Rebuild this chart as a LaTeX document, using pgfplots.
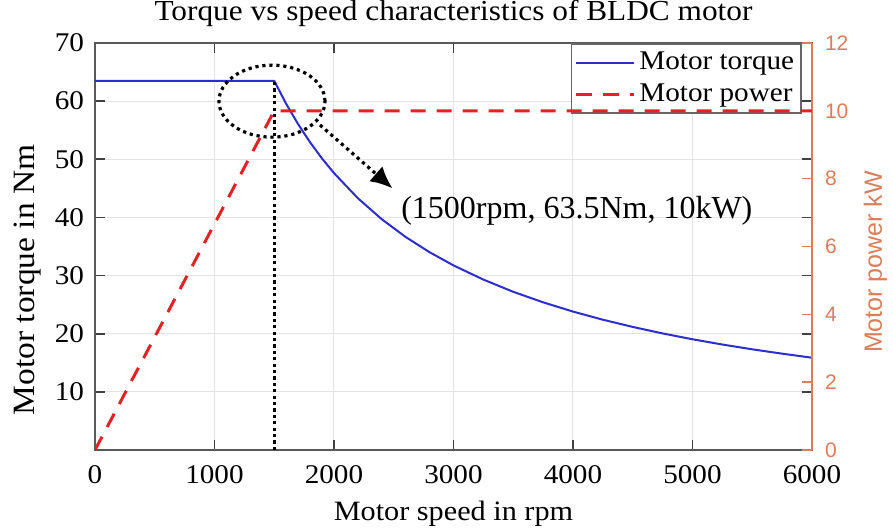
\documentclass[border=0pt]{standalone}
\usepackage{pgfplots}
\pgfplotsset{compat=1.18}
\usepackage{fontspec}
\setmainfont{Liberation Serif}[FakeStretch=1.08]
\newfontfamily\annfont{Liberation Serif}
\newfontfamily\sansf{Liberation Sans}
\usetikzlibrary{arrows.meta}
\definecolor{torq}{RGB}{45,45,205}
\definecolor{powr}{RGB}{225,35,35}
\definecolor{raxis}{RGB}{218,125,90}
\begin{document}
\begin{tikzpicture}
\useasboundingbox (-47.5pt,-38.5pt) rectangle (399pt,225pt);
\begin{axis}[
  scale only axis, width=358.5pt, height=203.5pt,
  at={(0,0)}, anchor=south west,
  xmin=0, xmax=6000, ymin=0, ymax=70,
  xtick={0,1000,...,6000}, ytick={10,20,...,70},
  tick align=inside, xtick pos=both, ytick pos=both,
  major tick length=5pt,
  grid=major, major grid style={gray!22, line width=0.5pt},
  axis line style={black!65, line width=1pt},
  tick style={black!75, line width=0.8pt},
  ticklabel style={font=\fontsize{13.5}{14}\selectfont},
  /pgf/number format/assume math mode=true,
  /pgf/number format/1000 sep={},
  xticklabel style={yshift=-4pt},
  yticklabel style={xshift=-2pt},
  xlabel={Motor speed in rpm}, ylabel={Motor torque in Nm},
  xlabel style={font=\fontsize{14}{16}\selectfont, at={(axis description cs:0.5,-0.172)}, anchor=base},
  ylabel style={font=\fontsize{15.5}{17}\selectfont, at={(axis description cs:-0.0837,0.418)}, anchor=base},
  title={Torque vs speed characteristics of BLDC motor},
  title style={font=\fontsize{14.5}{16}\selectfont, at={(axis description cs:0.5,1)}, anchor=base, yshift=5.5pt},
  legend style={at={(axis description cs:0.986,1)}, anchor=north east,
    draw=black!60, line width=0.8pt, fill=white, inner xsep=1.5pt, inner ysep=2.2pt, row sep=1.5pt,
    font=\fontsize{13.5}{14}\selectfont},
  legend cell align=left,
  legend image code/.code={\draw[#1] (0pt,0pt) -- (29pt,0pt);},
]
\addplot[torq, line width=1pt] coordinates {
(0,63.5) (1500,63.5) (1600,59.53) (1700,56.03) (1800,52.92) (1900,50.13) (2000,47.625)
(2200,43.30) (2400,39.69) (2600,36.63) (2800,34.02) (3000,31.75) (3250,29.31)
(3500,27.21) (3750,25.40) (4000,23.81) (4250,22.41) (4500,21.17) (4750,20.05)
(5000,19.05) (5250,18.14) (5500,17.32) (5750,16.57) (6000,15.875)};
\addlegendentry{Motor torque}
\addlegendimage{powr, line width=1.5pt, dash pattern=on 8pt off 5.5pt}
\addlegendentry{Motor power}
\addplot[black, line width=1.6pt, dash pattern=on 1.6pt off 1.6pt, forget plot] coordinates {(1500,0) (1500,63.5)};
\draw[black, line width=1.6pt, dash pattern=on 1.6pt off 1.9pt] (axis cs:1481,60) ellipse [x radius=26.5pt, y radius=18pt];
\draw[black, line width=1.6pt, dash pattern=on 1.6pt off 1.9pt, -{Latex[length=11pt,width=10pt]}] (axis cs:1883,55.9) -- (axis cs:2490,45.0);
\node[anchor=base west, inner sep=0pt, font=\annfont\fontsize{16}{18}\selectfont] at (axis cs:2560,39.9) {(1500rpm, 63.5Nm, 10kW)};
\end{axis}
\begin{axis}[
  scale only axis, width=358.5pt, height=203.5pt,
  at={(0,0)}, anchor=south west,
  xmin=0, xmax=6000, ymin=0, ymax=12, ytick={0,2,...,12},
  axis x line=none, axis y line*=right,
  y axis line style={raxis, line width=1pt},
  ytick style={raxis, line width=0.8pt}, tick align=inside, major tick length=5pt,
  /pgf/number format/assume math mode=true,
  yticklabel style={font=\sansf\fontsize{10.5}{12}\selectfont, text=raxis, xshift=3pt},
  ylabel={Motor power kW},
  ylabel style={font=\sansf\fontsize{12.5}{14}\selectfont, text=raxis, at={(axis description cs:1.0976,0.462)}, anchor=base},
]
\addplot[powr, line width=1.5pt, dash pattern=on 7.5pt off 5.5pt] coordinates {(0,0) (1500,10) (6000,10)};
\end{axis}
\end{tikzpicture}
\end{document}
